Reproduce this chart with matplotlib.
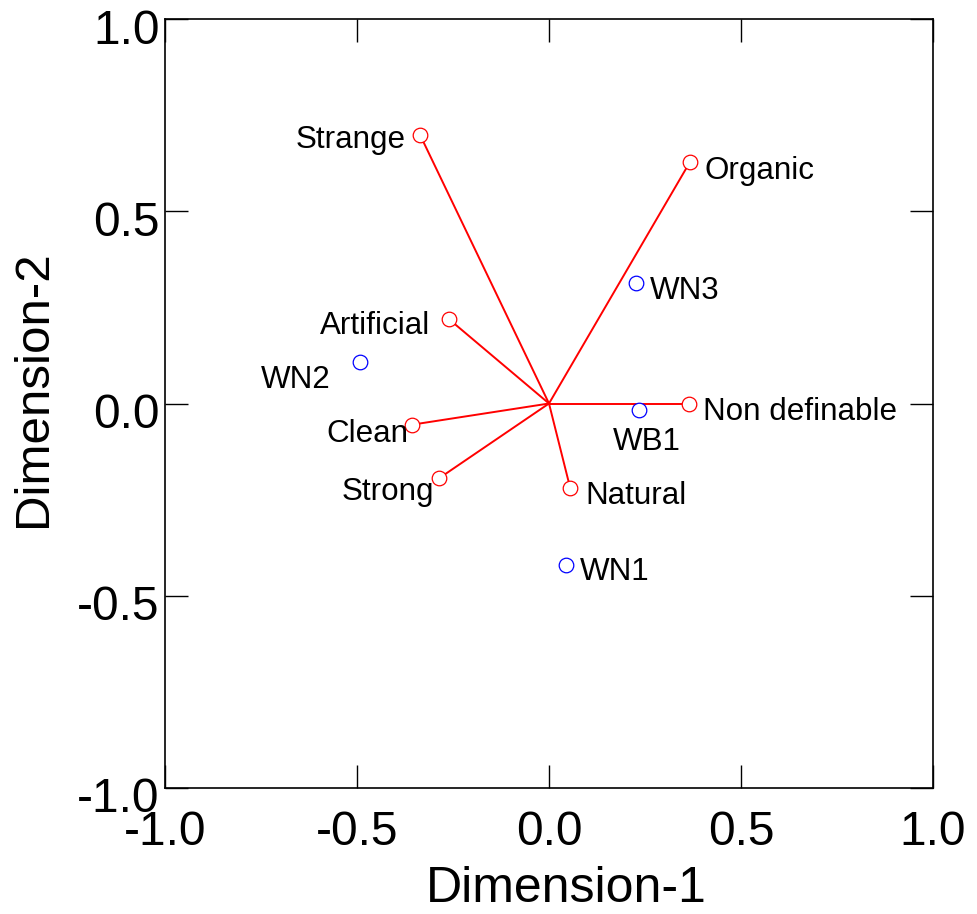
import matplotlib
matplotlib.use("Agg")
import matplotlib.pyplot as plt
from matplotlib.transforms import ScaledTranslation

plt.rcParams['font.family'] = ['Liberation Sans', 'DejaVu Sans']

# attribute vectors (red) and samples (blue)
attr_names = ['Strange', 'Organic', 'Artificial', 'Non definable', 'Clean', 'Strong', 'Natural']
attr_x = [-0.336, 0.367, -0.260, 0.364, -0.356, -0.287, 0.055]
attr_y = [0.699, 0.628, 0.219, 0.000, -0.055, -0.195, -0.219]

sample_names = ['WN3', 'WN2', 'WB1', 'WN1']
sample_x = [0.227, -0.493, 0.235, 0.043]
sample_y = [0.314, 0.107, -0.018, -0.419]

ticks = [-1.0, -0.5, 0.0, 0.5, 1.0]
tick_labels = ['-1.0', '-0.5', '0.0', '0.5', '1.0']

# label placement: (dx px, dy px, ha)
label_pos = {
    'Strange': (-14, -5, 'right'),
    'Organic': (15, -9, 'left'),
    'Artificial': (-19, -7, 'right'),
    'Non definable': (14, -8, 'left'),
    'Clean': (-4, -9, 'right'),
    'Strong': (-5, -14, 'right'),
    'Natural': (15, -8, 'left'),
    'WN3': (14, -8, 'left'),
    'WN2': (-29, -18, 'right'),
    'WB1': (8, -32, 'center'),
    'WN1': (14, -7, 'left'),
}

fig = plt.figure(figsize=(9.77, 9.14), dpi=100)
ax = fig.add_axes([165/977, 126/914, 768/977, 769/914])

for x, y in zip(attr_x, attr_y):
    ax.plot([0, x], [0, y], color='#ff0000', lw=1.4, zorder=2)
ax.plot(attr_x, attr_y, 'o', ls='none', ms=10.5, mfc='white', mec='#ff0000', mew=0.9, zorder=3)
ax.plot(sample_x, sample_y, 'o', ls='none', ms=10.5, mfc='white', mec='#0000ff', mew=0.9, zorder=3)

for names, xs, ys in [(attr_names, attr_x, attr_y), (sample_names, sample_x, sample_y)]:
    for n, x, y in zip(names, xs, ys):
        dx, dy, ha = label_pos[n]
        ax.annotate(n, (x, y), xytext=(dx, dy), textcoords='offset pixels',
                    ha=ha, va='center', fontsize=22.6, zorder=4)

ax.set_xlim(-1, 1)
ax.set_ylim(-1, 1)
ax.set_xticks(ticks)
ax.set_xticklabels(tick_labels)
ax.set_yticks(ticks)
ax.set_yticklabels(tick_labels)
ax.tick_params(direction='in', length=16.5, width=1.0, top=True, right=True,
               labelsize=34.5, pad=4)
ax.tick_params(axis='x', pad=16)
for s in ax.spines.values():
    s.set_linewidth(1.2)

for lab in ax.get_yticklabels():
    lab.set_transform(lab.get_transform() + ScaledTranslation(0, -7/100, fig.dpi_scale_trans))

ax.set_xlabel('Dimension-1', fontsize=36, labelpad=8)
ax.set_ylabel('Dimension-2', fontsize=35.5, labelpad=15)
ax.xaxis.label.set_x(0.522)
ax.yaxis.label.set_y(0.519)

fig.savefig('out.png', dpi=100)
